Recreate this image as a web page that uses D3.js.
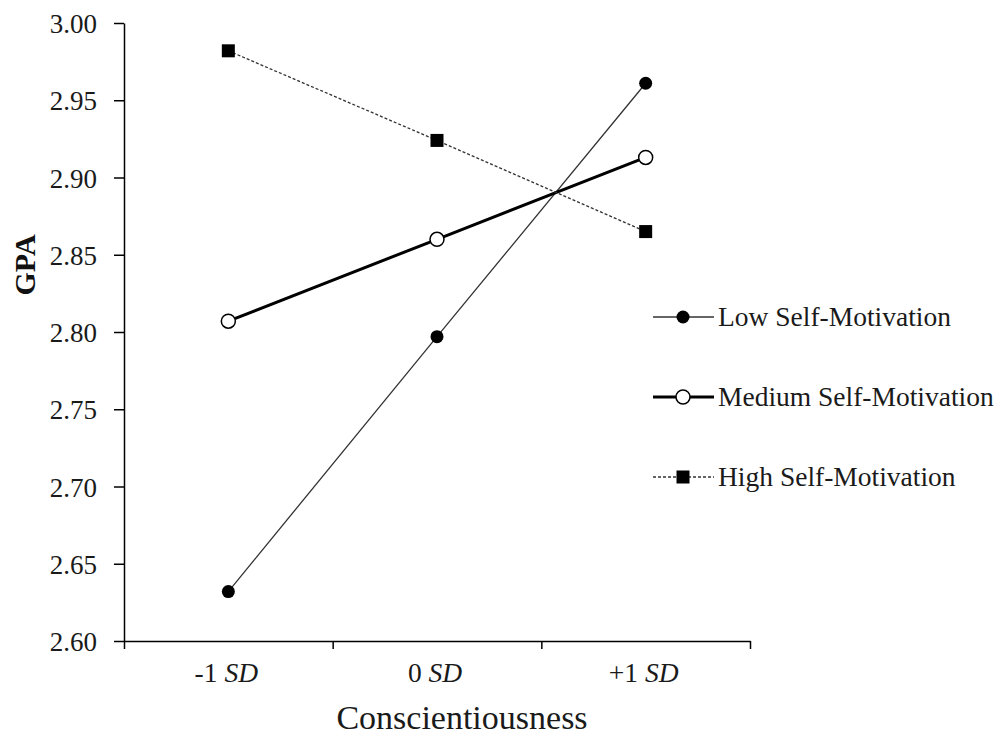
<!DOCTYPE html>
<html>
<head>
<meta charset="utf-8">
<script src="https://cdn.jsdelivr.net/npm/d3@7"></script>
<style>
  body { margin: 0; background: #fff; }
  svg { display: block; font-family: "Liberation Serif", "Times New Roman", serif; }
</style>
</head>
<body>
<svg id="mount" width="1003" height="738"></svg>
<script>
var categories = ["-1", "0", "+1"];
var lowValues = [2.632, 2.797, 2.961];
var mediumValues = [2.807, 2.860, 2.913];
var highValues = [2.982, 2.924, 2.865];
var yTicks = [2.60, 2.65, 2.70, 2.75, 2.80, 2.85, 2.90, 2.95, 3.00];
var seriesNames = ["Low Self-Motivation", "Medium Self-Motivation", "High Self-Motivation"];

var svg = d3.select("#mount");
var plotLeft = 124, plotRight = 750, plotTop = 23, plotBottom = 641;

var x = d3.scaleBand().domain(categories).range([plotLeft, plotRight]).padding(0);
var xEdge = d3.scaleLinear().domain([0, 3]).range([plotLeft, plotRight]);
var y = d3.scaleLinear().domain([2.6, 3.0]).range([plotBottom, plotTop]);

function cx(i) {
  return x(categories[i]) + x.bandwidth() / 2;
}

// y axis
var yAxis = svg.append("g")
  .attr("transform", "translate(" + plotLeft + ",0)")
  .call(d3.axisLeft(y).tickValues(yTicks).tickFormat(d3.format(".2f")).tickSize(10).tickSizeOuter(0).tickPadding(17));
yAxis.select(".domain").attr("stroke", "#000").attr("stroke-width", 1.5);
yAxis.selectAll(".tick line").attr("stroke", "#000").attr("stroke-width", 1.5);
yAxis.selectAll(".tick text")
  .attr("fill", "#1a1a1a")
  .attr("dy", "0.36em")
  .style("font-size", "27px")
  .style("font-family", "Liberation Serif, serif");

// x axis: boundary ticks
var xAxis = svg.append("g")
  .attr("transform", "translate(0," + plotBottom + ")")
  .call(d3.axisBottom(xEdge).tickValues([0, 1, 2, 3]).tickFormat("").tickSize(8).tickSizeOuter(0));
xAxis.select(".domain").attr("stroke", "#000").attr("stroke-width", 1.5);
xAxis.selectAll(".tick line").attr("stroke", "#000").attr("stroke-width", 1.5);

// x category labels
var xLabels = svg.append("g");
categories.forEach(function(c, i) {
  var t = xLabels.append("text")
    .attr("x", cx(i) - 2)
    .attr("y", 682)
    .attr("text-anchor", "middle")
    .attr("fill", "#1a1a1a")
    .style("font-size", "27.5px");
  t.append("tspan").text(c + " ");
  t.append("tspan").style("font-style", "italic").text("SD");
});

// axis titles
svg.append("text")
  .attr("x", 462)
  .attr("y", 729)
  .attr("text-anchor", "middle")
  .attr("fill", "#1a1a1a")
  .style("font-size", "34px")
  .text("Conscientiousness");

svg.append("text")
  .attr("transform", "translate(35,265) rotate(-90)")
  .attr("text-anchor", "middle")
  .attr("fill", "#111")
  .style("font-size", "30px")
  .style("font-weight", "bold")
  .text("GPA");

var line = d3.line()
  .x(function(d, i) { return cx(i); })
  .y(function(d) { return y(d); });

var styles = [
  { width: 1.3, dash: null, color: "#333" },
  { width: 3, dash: null, color: "#000" },
  { width: 1.3, dash: "3,2", color: "#333" }
];
var allSeries = [lowValues, mediumValues, highValues];

allSeries.forEach(function(vals, s) {
  svg.append("path")
    .datum(vals)
    .attr("fill", "none")
    .attr("stroke", styles[s].color)
    .attr("stroke-width", styles[s].width)
    .attr("stroke-dasharray", styles[s].dash)
    .attr("d", line);
});

function drawMarker(g, s, px, py) {
  if (s === 0) {
    g.append("circle").attr("cx", px).attr("cy", py).attr("r", 6.5).attr("fill", "#000");
  } else if (s === 1) {
    g.append("circle").attr("cx", px).attr("cy", py).attr("r", 7)
      .attr("fill", "#fff").attr("stroke", "#000").attr("stroke-width", 1.5);
  } else {
    g.append("rect").attr("x", px - 6.5).attr("y", py - 6.5).attr("width", 13).attr("height", 13).attr("fill", "#000");
  }
}

var markers = svg.append("g");
allSeries.forEach(function(vals, s) {
  vals.forEach(function(v, i) {
    drawMarker(markers, s, cx(i), y(v));
  });
});

// legend
var legendY = [317, 397, 477];
var legend = svg.append("g");
seriesNames.forEach(function(name, s) {
  var ly = legendY[s];
  legend.append("line")
    .attr("x1", 653).attr("x2", 714)
    .attr("y1", ly).attr("y2", ly)
    .attr("stroke", styles[s].color)
    .attr("stroke-width", styles[s].width)
    .attr("stroke-dasharray", styles[s].dash);
  drawMarker(legend, s, 683, ly);
  legend.append("text")
    .attr("x", 718)
    .attr("y", ly + 9)
    .attr("fill", "#1a1a1a")
    .style("font-size", "27.5px")
    .text(name);
});
</script>
</body>
</html>
